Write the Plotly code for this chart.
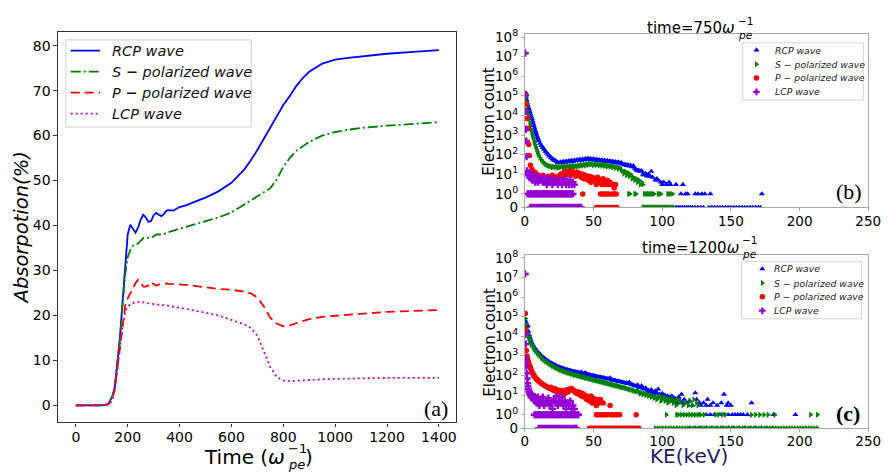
import numpy as np
import plotly.graph_objects as go

W, H = 895, 475

# ---------------- (a) absorption history ----------------
time = [0, 50, 100, 125, 140, 150, 160, 170, 180, 190, 200, 210, 220, 230, 240, 250,
        260, 270, 280, 290, 300, 310, 320, 330, 340, 350, 360, 375, 400, 425, 450,
        500, 550, 600, 650, 675, 700, 725, 750, 775, 800, 825, 850, 875, 900, 950,
        1000, 1050, 1100, 1200, 1300, 1400]
absorp_rcp = [0, 0, 0, 0.3, 1.8, 4, 9, 15, 23, 31, 38, 40.2, 39.3, 38.4, 39.5, 41.3,
              42.4, 41.8, 40.8, 41.0, 42.3, 42.8, 42.4, 42.1, 42.6, 43.3, 43.4, 43.3,
              44.1, 44.5, 45.1, 46.2, 47.6, 49.5, 52.5, 54.5, 56.8, 59.3, 62.0, 64.6,
              66.8, 68.8, 71.0, 72.8, 74.2, 76.0, 76.9, 77.3, 77.6, 78.2, 78.6, 79.0]
absorp_s = [0, 0, 0, 0.3, 2.0, 4, 9, 15, 22, 29, 33, 34.5, 35.5, 35.8, 36.0, 36.6,
            37.2, 37.3, 37.2, 37.2, 37.6, 38.0, 38.0, 38.0, 38.1, 38.4, 38.6, 38.9,
            39.3, 39.7, 40.1, 41.0, 41.8, 42.9, 44.6, 45.6, 46.5, 47.4, 48.3, 50.3,
            53.0, 55.0, 56.6, 57.6, 58.6, 60.0, 60.8, 61.3, 61.7, 62.2, 62.6, 63.0]
absorp_p = [0, 0, 0, 0.2, 1.5, 3.5, 8, 13, 18, 22, 23.8, 24.8, 26.0, 27.2, 27.9, 27.2,
            26.4, 26.4, 26.7, 27.4, 27.0, 26.6, 26.9, 27.0, 27.0, 27.1, 27.0, 27.0,
            26.9, 26.8, 26.6, 26.2, 25.9, 25.7, 25.3, 24.9, 24.0, 22.0, 19.5, 18.2,
            17.6, 17.8, 18.3, 18.8, 19.2, 19.7, 19.9, 20.1, 20.4, 20.8, 21.0, 21.2]
absorp_lcp = [0, 0, 0, 0.1, 1.0, 3.5, 8, 13, 17.5, 20.8, 22.0, 22.5, 22.8, 23.0, 23.0,
              23.0, 22.9, 22.8, 22.7, 22.6, 22.5, 22.5, 22.4, 22.3, 22.3, 22.2, 22.1,
              22.0, 21.8, 21.5, 21.2, 20.6, 20.0, 19.0, 18.0, 17.2, 15.5, 12.0, 8.5,
              6.3, 5.5, 5.4, 5.5, 5.6, 5.7, 5.8, 5.9, 6.0, 6.0, 6.1, 6.1, 6.1]
for series in (absorp_rcp, absorp_s, absorp_p, absorp_lcp):
    assert len(series) == len(time)

# ---------------- (b) spectrum at t = 750 (keV, electron count) ----------------
rcp_750 = [(0.3, 120000), (0.7, 90000), (1.1, 65000), (1.5, 48000), (2, 35000), (2.5, 26000),
           (3, 20000), (3.5, 15500), (4, 12000), (4.5, 9000), (5, 7000), (5.5, 5200),
           (6, 4000), (6.5, 3000), (7, 2300), (7.5, 1700), (8, 1300), (8.5, 1000), (9, 800),
           (9.5, 650), (10, 520), (11, 380), (12, 290), (13, 230), (14, 190), (15, 150),
           (16, 120), (17, 100), (18, 85), (19, 72), (20, 62), (21, 55), (22, 50), (23, 45),
           (24, 41), (25, 38), (26, 42), (27, 39), (28, 45), (29, 41), (30, 47), (31, 43),
           (32, 49), (33, 44), (34, 51), (35, 46), (36, 53), (37, 48), (38, 56), (39, 50),
           (40, 58), (41, 52), (42, 60), (43, 55), (44, 63), (45, 57), (46, 66), (47, 58),
           (48, 62), (49, 55), (50, 60), (51, 53), (52, 58), (53, 50), (54, 56), (55, 48),
           (56, 54), (57, 47), (58, 52), (59, 45), (60, 50), (61, 44), (62, 48), (63, 42),
           (64, 46), (65, 40), (66, 44), (67, 38), (68, 42), (69, 36), (70, 40), (71, 34),
           (72, 30), (73, 33), (74, 28), (75, 31), (76, 26), (77, 29), (78, 24), (79, 27),
           (80, 20), (81, 17), (82, 15), (83, 16), (84, 14), (85, 15), (86, 10), (87, 9),
           (88, 11), (89, 8), (90, 10), (91, 8), (92, 14), (93, 7), (95, 5), (96, 6), (97, 5),
           (99, 4), (100, 3), (101, 4), (103, 3), (105, 4), (106, 3), (110, 3), (115, 3)]
rcp_750_one = [113.6, 117, 118.5, 124, 126, 128.8, 131, 135, 172.5]
rcp_750_zero = [108, 110, 111.5, 113, 114.5, 116, 117.5, 119, 120.5, 122, 124, 126, 128,
                130, 134, 136, 138, 140, 142, 144, 146, 148, 150, 152, 154, 156, 158, 160,
                162, 164, 166, 168, 170, 171.5]

s_750 = [(0.3, 150000), (0.7, 90000), (1.1, 50000), (1.5, 30000), (2, 18000), (2.5, 11000),
         (3, 7000), (3.5, 4500), (4, 3000), (4.5, 2000), (5, 1400), (5.5, 1000), (6, 750),
         (6.5, 550), (7, 420), (7.5, 320), (8, 250), (8.5, 190), (9, 150), (9.5, 120),
         (10, 95), (11, 70), (12, 55), (13, 45), (14, 38), (15, 33), (16, 30), (17, 28),
         (18, 26), (19, 25), (20, 23), (21, 25), (22, 22), (23, 26), (24, 21), (25, 24),
         (26, 22), (27, 26), (28, 21), (29, 25), (30, 23), (31, 27), (32, 22), (33, 28),
         (34, 24), (35, 29), (36, 23), (37, 27), (38, 25), (39, 30), (40, 26), (41, 31),
         (42, 27), (43, 33), (44, 28), (45, 35), (46, 30), (47, 36), (48, 31), (49, 34),
         (50, 29), (51, 35), (52, 30), (53, 33), (54, 28), (55, 32), (56, 27), (57, 31),
         (58, 26), (59, 30), (60, 25), (61, 28), (62, 24), (63, 27), (64, 22), (65, 26),
         (66, 21), (67, 24), (68, 19), (69, 22), (70, 17), (71, 15), (72, 11), (73, 14),
         (74, 9), (75, 12), (76, 8), (77, 10), (78, 6), (79, 7), (80, 5), (81, 6), (82, 4),
         (83, 5), (84, 3), (85, 4), (86, 3)]
s_750_one = [75.5, 76.5, 80, 81, 87, 88, 89, 90, 91, 92, 93, 94, 97, 98, 99, 104, 105, 106,
             107.5]
s_750_zero = [86, 87, 88, 89, 90, 91, 92, 93, 94, 95, 96, 97, 98, 99, 100, 101, 102, 103,
              104, 105, 106, 107, 108]

p_750 = [(0.5, 120000), (1, 39000), (1.5, 7000), (2.2, 2200), (2.8, 330), (3.3, 90),
         (4, 29), (5, 18), (6, 11), (6.5, 8), (7, 13), (7.5, 6), (8, 9), (8.5, 5), (9, 10),
         (9.5, 7), (10, 6), (11, 8), (12, 5), (13, 9), (14, 6), (15, 7), (16, 4), (17, 8),
         (18, 5), (19, 6), (20, 9), (21, 5), (22, 7), (23, 4), (24, 8), (25, 6), (26, 10),
         (27, 7), (28, 12), (29, 9), (30, 14), (31, 10), (32, 13), (33, 9), (34, 15),
         (35, 11), (36, 12), (37, 8), (38, 13), (39, 9), (40, 11), (41, 7), (42, 10), (43, 6),
         (44, 9), (45, 7), (46, 5), (47, 8), (48, 4), (49, 7), (50, 5), (51, 6), (52, 3),
         (53, 7), (54, 4), (55, 5), (56, 3), (57, 6), (58, 4), (59, 3), (60, 5), (61, 3),
         (62, 4), (63, 3), (64, 3), (65, 2), (66, 3)]
p_750_one = [42.1, 55, 56.5, 58, 59.5, 61, 63.5, 65, 66.5]
p_750_zero = [52, 53, 54, 55, 56, 57, 58, 59, 60, 61, 62, 63, 64, 65, 66, 67]

lcp_750 = [(0.2, 15000000), (0.4, 110000), (0.6, 16000), (0.8, 2000), (1.0, 500), (1.2, 80),
           (1.5, 15), (2, 12), (2.5, 9), (3, 11), (3.5, 7), (4, 10), (4.5, 6), (5, 8),
           (5.5, 5), (6, 9), (6.5, 6), (7, 7), (7.5, 4), (8, 8), (8.5, 5), (9, 6), (9.5, 4),
           (10, 7), (11, 5), (12, 6), (13, 4), (14, 7), (15, 5), (16, 3), (17, 6), (18, 4),
           (19, 5), (20, 3), (21, 6), (22, 4), (23, 5), (24, 3), (25, 4), (26, 5), (27, 3),
           (28, 4), (29, 6), (30, 3), (31, 4), (32, 3), (33, 5), (34, 3), (35, 4), (36, 3)]
lcp_750_one = [2, 3, 4, 5, 6, 7, 8, 9, 10, 11, 12, 13, 14, 15, 16, 17, 18, 19, 20, 21, 22,
               23, 24, 25, 26, 27, 28, 29, 30, 31, 32, 33, 34, 35]
lcp_750_zero = [4, 5.5, 7, 8.5, 10, 11.5, 13, 14.5, 16, 17.5, 19, 20.5, 22, 23.5, 25, 26.5,
                28, 29.5, 31, 32.5, 34, 35.5, 37, 38.5, 40, 41]

# ---------------- (c) spectrum at t = 1200 (keV, electron count) ----------------
rcp_1200 = [(0.5, 60000), (1, 45000), (1.5, 32000), (2, 35000), (2.5, 18000), (3, 12000),
            (3.5, 9000), (4, 7000), (4.5, 5500), (5, 4600), (6, 3400), (7, 2600), (8, 2100),
            (9, 1700), (10, 1400), (11, 1200), (12, 1000), (13, 880), (14, 760), (15, 680),
            (16, 600), (17, 540), (18, 480), (19, 440), (20, 400), (21, 370), (22, 340),
            (23, 310), (24, 290), (25, 270), (26, 255), (27, 240), (28, 225), (29, 215),
            (30, 205), (31, 195), (32, 185), (33, 180), (34, 172), (35, 165), (36, 160),
            (37, 152), (38, 148), (39, 142), (40, 136), (41, 150), (42, 128), (43, 125),
            (44, 140), (45, 118), (46, 112), (47, 108), (48, 104), (49, 100), (50, 97),
            (51, 94), (52, 90), (53, 87), (54, 85), (55, 82), (56, 79), (57, 76), (58, 74),
            (59, 71), (60, 68), (61, 66), (62, 75), (63, 62), (64, 59), (65, 57), (66, 55),
            (67, 53), (68, 51), (69, 49), (70, 47), (71, 46), (72, 44), (73, 42), (74, 41),
            (75, 39), (76, 45), (77, 37), (78, 34), (79, 32), (80, 30), (81, 29), (82, 33),
            (83, 26), (84, 24), (85, 30), (86, 22), (87, 20), (88, 23), (89, 18), (90, 17),
            (91, 15), (92, 19), (93, 14), (94, 12), (95, 16), (96, 13), (97, 20), (98, 11),
            (99, 9), (100, 12), (101, 8), (102, 10), (103, 7), (104, 9), (105, 6), (106, 8),
            (107, 9), (108, 5), (109, 7), (110, 6), (111, 4), (112, 8), (113, 5), (114, 11),
            (115, 4), (116, 6), (118, 4), (120, 5), (122, 3), (124, 13), (125, 6), (127, 4),
            (128, 3), (130, 4), (132, 3), (133, 6), (135, 3), (137, 4), (140, 3), (143, 4),
            (145, 11), (147, 3), (148, 4), (150, 3), (165, 4)]
rcp_1200_one = [127, 132, 135, 138, 142, 145, 148, 151, 153, 155, 157, 159, 162, 181, 197]
rcp_1200_zero = [120, 124, 128, 132, 136, 140, 144, 148, 152, 156, 160, 164, 168, 172,
                 176, 180]

s_1200 = [(0.5, 80000), (1, 40000), (1.5, 22000), (2, 14000), (2.5, 10000), (3, 8000),
          (3.5, 6500), (4, 5200), (4.5, 4300), (5, 3600), (6, 2700), (7, 2100), (8, 1700),
          (9, 1400), (10, 1150), (11, 950), (12, 800), (13, 700), (14, 600), (15, 530),
          (16, 470), (17, 420), (18, 380), (19, 340), (20, 310), (21, 285), (22, 260),
          (23, 240), (24, 220), (25, 205), (26, 190), (27, 178), (28, 168), (29, 158),
          (30, 150), (31, 142), (32, 135), (33, 128), (34, 122), (35, 116), (36, 110),
          (37, 105), (38, 100), (39, 96), (40, 92), (41, 88), (42, 84), (43, 80), (44, 77),
          (45, 74), (46, 71), (47, 68), (48, 65), (49, 62), (50, 60), (51, 57), (52, 55),
          (53, 53), (54, 51), (55, 49), (56, 47), (57, 45), (58, 43), (59, 41), (60, 40),
          (61, 38), (62, 37), (63, 35), (64, 34), (65, 32), (66, 31), (67, 30), (68, 29),
          (69, 27), (70, 26), (71, 25), (72, 24), (73, 23), (74, 22), (75, 21), (76, 20),
          (77, 19), (78, 18), (79, 17), (80, 16), (81, 15), (82, 17), (83, 14), (84, 12),
          (85, 13), (86, 11), (87, 12), (88, 10), (89, 11), (90, 9), (91, 10), (92, 8),
          (93, 9), (94, 7), (95, 8), (96, 6), (97, 7), (98, 9), (99, 5), (100, 6), (101, 8),
          (102, 5), (103, 7), (104, 4), (105, 6), (106, 5), (107, 7), (108, 4), (109, 5),
          (110, 3), (111, 6), (112, 4), (113, 5), (115, 3), (117, 4), (119, 3), (120, 5),
          (122, 3), (123, 6), (125, 4), (126, 3)]
s_1200_one = [103, 110.5, 112, 114, 116, 118, 120, 122, 124, 126, 128, 130.5, 139, 141,
              144, 146, 165, 168, 171, 174, 177, 182, 208, 213]
s_1200_zero = [95, 97, 99, 101, 103, 105, 107, 109, 111, 113, 115, 117, 119, 121, 123, 125,
               127, 129, 131, 133, 135, 137, 139, 141, 143, 145, 147, 149, 151, 153, 155,
               157, 159, 161, 163, 165, 167, 169, 171, 173, 175, 177, 179, 181, 183, 185,
               187, 189, 191, 193, 195, 197, 199, 201, 203, 205, 207, 209, 211, 213]

p_1200 = [(0.3, 145000), (0.6, 23000), (1, 1900), (1.5, 1000), (2, 700), (2.5, 500), (3, 380),
          (3.5, 300), (4, 250), (4.5, 200), (5, 160), (5.5, 135), (6, 115), (6.5, 100),
          (7, 90), (7.5, 80), (8, 72), (8.5, 65), (9, 60), (9.5, 55), (10, 52), (11, 46),
          (12, 40), (13, 36), (14, 32), (15, 29), (16, 27), (17, 24), (18, 22), (19, 25),
          (20, 19), (21, 17), (22, 21), (23, 15), (24, 18), (25, 14), (26, 17), (27, 13),
          (28, 16), (29, 12), (30, 18), (31, 14), (32, 20), (33, 17), (34, 22), (35, 19),
          (36, 16), (37, 13), (38, 15), (39, 11), (40, 14), (41, 9), (42, 12), (43, 8),
          (44, 10), (45, 6), (46, 8), (47, 5), (48, 9), (49, 4), (50, 7), (51, 5), (52, 3),
          (53, 6), (54, 4), (55, 6), (57, 4), (62, 3)]
p_1200_one = [52, 53, 54.5, 56, 57.5, 59, 60.5, 63, 64, 66, 67, 69, 81]
p_1200_zero = [47, 48.5, 50, 51.5, 53, 54.5, 56, 57.5, 59, 60.5, 62, 63.5, 65, 66.5, 68,
               69.5, 71, 72.5, 74, 75.5, 77, 78.5, 80, 81.5, 83]

lcp_1200 = [(0.2, 15000000), (0.4, 12000), (0.6, 4000), (0.8, 700), (1.0, 300), (1.3, 130),
            (1.6, 70), (1.9, 40), (2.2, 28), (2.6, 20), (3, 15), (3.5, 12), (4, 10),
            (4.5, 8), (5, 11), (5.5, 7), (6, 9), (6.5, 6), (7, 8), (7.5, 5), (8, 7), (8.5, 4),
            (9, 6), (9.5, 8), (10, 5), (10.5, 3), (11, 6), (12, 4), (13, 8), (14, 3), (15, 5),
            (16, 4), (17, 7), (18, 3), (19, 5), (20, 2), (21, 6), (22, 4), (23, 9), (24, 3),
            (25, 5), (26, 4), (27, 8), (28, 3), (29, 5), (30, 2), (31, 4), (32, 3), (33, 5),
            (34, 2), (35, 3), (36, 2)]
lcp_1200_one = [7, 8, 9, 10, 11, 12, 13, 14, 15, 16, 17, 18, 19, 20, 21, 22, 23, 24, 25,
                26, 27, 28, 29, 30, 31, 32, 33, 34, 35, 36, 37, 38, 39]
lcp_1200_zero = [10, 11.5, 13, 14.5, 16, 17.5, 19, 20.5, 22, 23.5, 25, 26.5, 28, 29.5, 31,
                 32.5, 34, 35.5, 37, 37.5]

wave_names = ["RCP wave", "S \u2212 polarized wave", "P \u2212 polarized wave", "LCP wave"]
line_labels = ["RCP wave", "S <b>\u2212</b> polarized wave", "P <b>\u2212</b> polarized wave",
               "LCP wave"]
line_colors = ["#0000ff", "#008000", "#ff0000", "#bf00bf"]
line_dashes = ["solid", "10px,3px,2px,3px", "9px,5px", "2px,3px"]
marker_colors = ["#0000ff", "#008000", "#ff0000", "#9400d3"]
marker_symbols = ["triangle-up", "triangle-right", "circle", "cross"]
marker_sizes = [5.5, 5.5, 5.5, 6]

# symmetric-log count scale: linear between 0 and 1, logarithmic above
LIN_SPAN = 0.69
Y_TOP = LIN_SPAN + 8.15


def symlog(n):
    n = np.asarray(n, dtype=float)
    return np.where(n <= 1, n * LIN_SPAN, LIN_SPAN + np.log10(np.maximum(n, 1)))


def spectrum(main, ones, zeros):
    e = [p[0] for p in main] + list(ones) + list(zeros)
    n = [p[1] for p in main] + [1] * len(ones) + [0] * len(zeros)
    return e, n


def fx(x):
    return x / W


def fy(y):
    return 1 - y / H


fig = go.Figure()

abs_series = [absorp_rcp, absorp_s, absorp_p, absorp_lcp]
for vals, name, col, dash in zip(abs_series, wave_names, line_colors, line_dashes):
    fig.add_trace(go.Scatter(x=time, y=vals, mode="lines", name=name, showlegend=False,
                             line=dict(color=col, width=1.8, dash=dash),
                             xaxis="x", yaxis="y"))

panels = [
    ("x2", "y2", [(rcp_750, rcp_750_one, rcp_750_zero), (s_750, s_750_one, s_750_zero),
                  (p_750, p_750_one, p_750_zero), (lcp_750, lcp_750_one, lcp_750_zero)]),
    ("x3", "y3", [(rcp_1200, rcp_1200_one, rcp_1200_zero), (s_1200, s_1200_one, s_1200_zero),
                  (p_1200, p_1200_one, p_1200_zero), (lcp_1200, lcp_1200_one, lcp_1200_zero)]),
]
for xa, ya, sets in panels:
    for (main, ones, zeros), col, sym, sz, nm in zip(sets, marker_colors, marker_symbols,
                                                      marker_sizes, wave_names):
        e, n = spectrum(main, ones, zeros)
        fig.add_trace(go.Scatter(x=e, y=symlog(n), mode="markers", name=nm, showlegend=False,
                                 marker=dict(color=col, symbol=sym, size=sz, line=dict(width=0)),
                                 xaxis=xa, yaxis=ya))

shapes = []
annotations = []

# legend of panel (a): box in pixels, rows measured from the box top
LEG_A = dict(x0=63, x1=252, y0=34, y1=124)
leg_a_rows = [11, 32.7, 54.5, 76]
shapes.append(dict(type="rect", xref="paper", yref="paper", x0=fx(LEG_A["x0"]),
                   x1=fx(LEG_A["x1"]), y0=fy(LEG_A["y1"]), y1=fy(LEG_A["y0"]),
                   line=dict(color="#d0d0d0", width=1), fillcolor="white", layer="below"))
for row, col, dash, lab in zip(leg_a_rows, line_colors, line_dashes, line_labels):
    fig.add_trace(go.Scatter(x=[5, 35], y=[row, row], mode="lines", showlegend=False,
                             line=dict(color=col, width=1.8, dash=dash),
                             xaxis="x6", yaxis="y6", hoverinfo="skip"))
    annotations.append(dict(xref="x6", yref="y6", x=45, y=row, text="<i>" + lab + "</i>",
                            showarrow=False, xanchor="left", yanchor="middle",
                            font=dict(size=14.5, color="#111")))

# legends of the two spectrum panels
legend_boxes = [("x4", "y4", 753, 876, 37, 96, 14), ("x5", "y5", 752, 874, 263, 322, 21)]
row_offsets = [7.5, 22, 36.3, 50.6]
for xa, ya, x0, x1, y0, y1, key_x in legend_boxes:
    shapes.append(dict(type="rect", xref="paper", yref="paper", x0=fx(x0), x1=fx(x1),
                       y0=fy(y1), y1=fy(y0), line=dict(color="#d4d4d4", width=1),
                       fillcolor="white", layer="below"))
    for row, col, sym, nm in zip(row_offsets, marker_colors, marker_symbols, wave_names):
        fig.add_trace(go.Scatter(x=[key_x], y=[row], mode="markers", showlegend=False,
                                 marker=dict(color=col, symbol=sym, size=5.5, line=dict(width=0)),
                                 xaxis=xa, yaxis=ya, hoverinfo="skip"))
        annotations.append(dict(xref=xa, yref=ya, x=31, y=row, text="<i>" + nm + "</i>",
                                showarrow=False, xanchor="left", yanchor="middle",
                                font=dict(size=9.3, color="#222")))

frame_dark = dict(showline=True, mirror=True, linecolor="#333333", linewidth=1.2,
                  ticks="outside", ticklen=3.5, tickcolor="#333333", showgrid=False,
                  zeroline=False, tickfont=dict(size=14, color="black"))
frame_light = dict(showline=True, mirror=True, linecolor="#a8a8a8", linewidth=1,
                   ticks="outside", ticklen=3, tickcolor="#a8a8a8", showgrid=False,
                   zeroline=False, tickfont=dict(size=13.5, color="black"))

log_ticks = [0] + [LIN_SPAN + k for k in range(9)]
log_text = ["0"] + ["10<sup>%d</sup>" % k for k in range(9)]

fig.update_layout(
    width=W, height=H, margin=dict(l=0, r=0, t=0, b=0),
    paper_bgcolor="white", plot_bgcolor="rgba(0,0,0,0)",
    font=dict(family="DejaVu Sans", color="black"),
    showlegend=False,
    xaxis=dict(domain=[fx(55), fx(461)], range=[-69, 1467], ticklabelstandoff=-2,
               tickvals=[0, 200, 400, 600, 800, 1000, 1200, 1400], anchor="y", **frame_dark),
    yaxis=dict(domain=[fy(429), fy(26)], range=[-3.8, 83],
               tickvals=[0, 10, 20, 30, 40, 50, 60, 70, 80], anchor="x", **frame_dark),
    xaxis2=dict(domain=[fx(531), fx(881)], range=[0, 250], tickvals=[0, 50, 100, 150, 200, 250],
                ticklabelstandoff=-2, anchor="y2", **frame_light),
    yaxis2=dict(domain=[fy(207), fy(28)], range=[0, Y_TOP], tickvals=log_ticks,
                ticktext=log_text, anchor="x2", **frame_light),
    xaxis3=dict(domain=[fx(531), fx(881)], range=[0, 250], tickvals=[0, 50, 100, 150, 200, 250],
                ticklabelstandoff=-2, anchor="y3", **frame_light),
    yaxis3=dict(domain=[fy(435), fy(256)], range=[0, Y_TOP], tickvals=log_ticks,
                ticktext=log_text, anchor="x3", **frame_light),
    xaxis4=dict(domain=[fx(753), fx(876)], range=[0, 123], visible=False, anchor="y4"),
    yaxis4=dict(domain=[fy(96), fy(37)], range=[59, 0], visible=False, anchor="x4"),
    xaxis5=dict(domain=[fx(752), fx(874)], range=[0, 122], visible=False, anchor="y5"),
    yaxis5=dict(domain=[fy(322), fy(263)], range=[59, 0], visible=False, anchor="x5"),
    xaxis6=dict(domain=[fx(LEG_A["x0"]), fx(LEG_A["x1"])], range=[0, LEG_A["x1"] - LEG_A["x0"]],
                visible=False, anchor="y6"),
    yaxis6=dict(domain=[fy(LEG_A["y1"]), fy(LEG_A["y0"])], range=[LEG_A["y1"] - LEG_A["y0"], 0],
                visible=False, anchor="x6"),
    shapes=shapes,
)


def text_at(x, y, text, size, xanchor="center", angle=0, color="black", family="DejaVu Sans"):
    annotations.append(dict(xref="paper", yref="paper", x=fx(x), y=fy(y), text=text,
                            showarrow=False, xanchor=xanchor, yanchor="middle",
                            textangle=angle, font=dict(size=size, color=color, family=family)))


def omega_label(x_split, y_base, y_sup, y_sub, base, size, small, tail=""):
    # base text ends at x_split; the sub/superscripts are stacked right after it
    text_at(x_split, y_base, base, size, xanchor="right")
    text_at(x_split - 1, y_sup, "\u22121", small, xanchor="left")
    text_at(x_split - 1, y_sub, "<i>pe</i>", small, xanchor="left")
    if tail:
        text_at(x_split + 1.3 * small, y_base, tail, size, xanchor="left")


# axis titles
text_at(18, 228, "<i>Absorpotion(%)</i>", 19.5, angle=-90)
omega_label(288, 465, 456, 472, "Time (<i>\u03c9</i>", 20, 13, tail=")")
text_at(495, 118, "Electron count", 15, angle=-90)
text_at(495, 346, "Electron count", 15, angle=-90)
text_at(698, 464, "KE(keV)", 20, color="#1c1c5a")
omega_label(747, 22, 14, 28.5, "time=750<i>\u03c9</i>", 15, 10.5)
omega_label(751, 249, 241, 255.5, "time=1200<i>\u03c9</i>", 15, 10.5)

# panel tags
text_at(440, 415, "(a)", 22, family="Liberation Serif")
text_at(861, 190, "(b)", 22, family="Liberation Serif")
text_at(860, 420, "<b>(c)</b>", 22, family="Liberation Serif")

fig.update_layout(annotations=annotations)
fig.write_html("out.html")
